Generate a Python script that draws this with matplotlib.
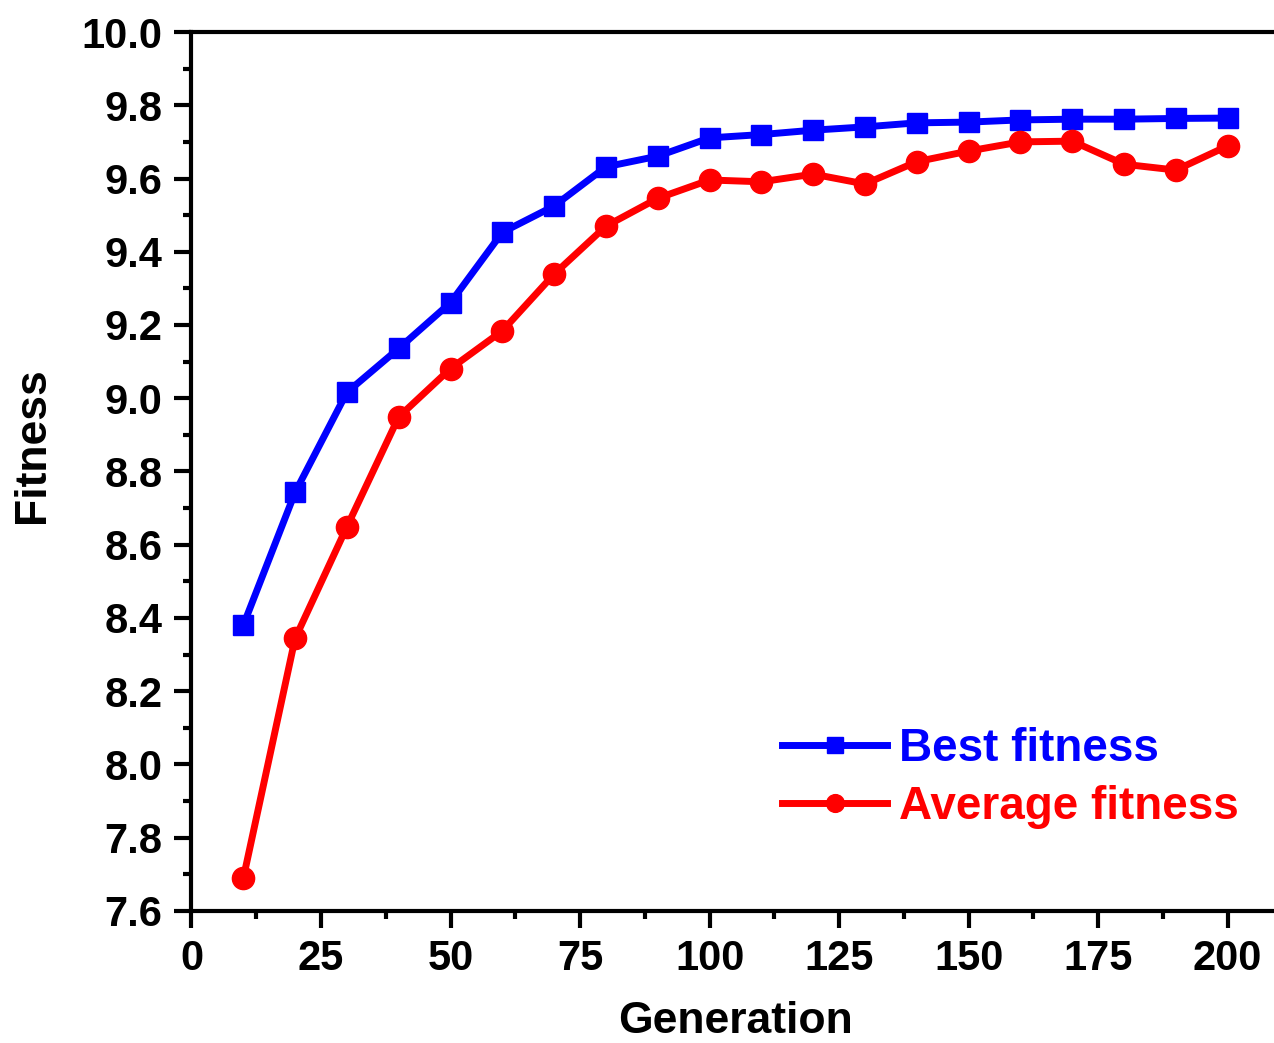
import matplotlib
matplotlib.use("Agg")
import matplotlib.pyplot as plt
from matplotlib.ticker import MultipleLocator

generation = [10, 20, 30, 40, 50, 60, 70, 80, 90, 100, 110, 120, 130, 140, 150, 160, 170, 180, 190, 200]
best_fitness = [8.38, 8.743, 9.016, 9.136, 9.261, 9.453, 9.525, 9.632, 9.661, 9.711, 9.720, 9.732,
                9.741, 9.752, 9.754, 9.760, 9.762, 9.762, 9.764, 9.765]
average_fitness = [7.689, 8.344, 8.649, 8.949, 9.081, 9.184, 9.339, 9.470, 9.546, 9.596, 9.591, 9.612,
                   9.585, 9.646, 9.675, 9.700, 9.702, 9.639, 9.623, 9.689]
x_ticks = [0, 25, 50, 75, 100, 125, 150, 175, 200]
y_ticks = [7.6, 7.8, 8.0, 8.2, 8.4, 8.6, 8.8, 9.0, 9.2, 9.4, 9.6, 9.8, 10.0]

plt.rcParams['font.family'] = ['Liberation Sans', 'DejaVu Sans']
plt.rcParams['font.weight'] = 'bold'

fig = plt.figure(figsize=(12.74, 10.43), dpi=100)
ax = fig.add_axes([0.1503, 0.1266, 0.854, 0.8427])

ax.plot(generation, best_fitness, color='#0000FF', lw=5, marker='s', ms=14, label='Best fitness')
ax.plot(generation, average_fitness, color='#FF0000', lw=5, marker='o', ms=16, label='Average fitness')

ax.set_xlim(0, 210)
ax.set_ylim(7.6, 10.0)
ax.set_xticks(x_ticks)
ax.set_yticks(y_ticks)
ax.set_yticklabels([f"{v:.1f}" for v in y_ticks])
ax.xaxis.set_minor_locator(MultipleLocator(12.5))
ax.yaxis.set_minor_locator(MultipleLocator(0.1))

for s in ax.spines.values():
    s.set_linewidth(3)
ax.tick_params(which='major', direction='out', length=12, width=3, labelsize=30)
ax.tick_params(which='minor', direction='out', length=6, width=3)
ax.tick_params(axis='x', which='major', pad=8)
ax.tick_params(axis='y', which='major', pad=9)
ax.tick_params(top=False, right=False, which='both')
for lab in ax.get_xticklabels() + ax.get_yticklabels():
    lab.set_fontweight('bold')

ax.set_xlabel('Generation', fontsize=32, fontweight='bold')
ax.set_ylabel('Fitness', fontsize=32, fontweight='bold')
ax.xaxis.set_label_coords(0.5, -0.102)
ax.yaxis.set_label_coords(-0.127, 0.53)

leg = ax.legend(loc='upper left', bbox_to_anchor=(782/1274, 1 - 727/1043), bbox_transform=fig.transFigure,
                frameon=False, handlelength=2.3, handletextpad=0.25, labelspacing=0.3,
                borderpad=0, borderaxespad=0, markerscale=0.8, labelcolor='linecolor',
                prop={'weight': 'bold', 'size': 33})

fig.savefig('out.png', dpi=100)
